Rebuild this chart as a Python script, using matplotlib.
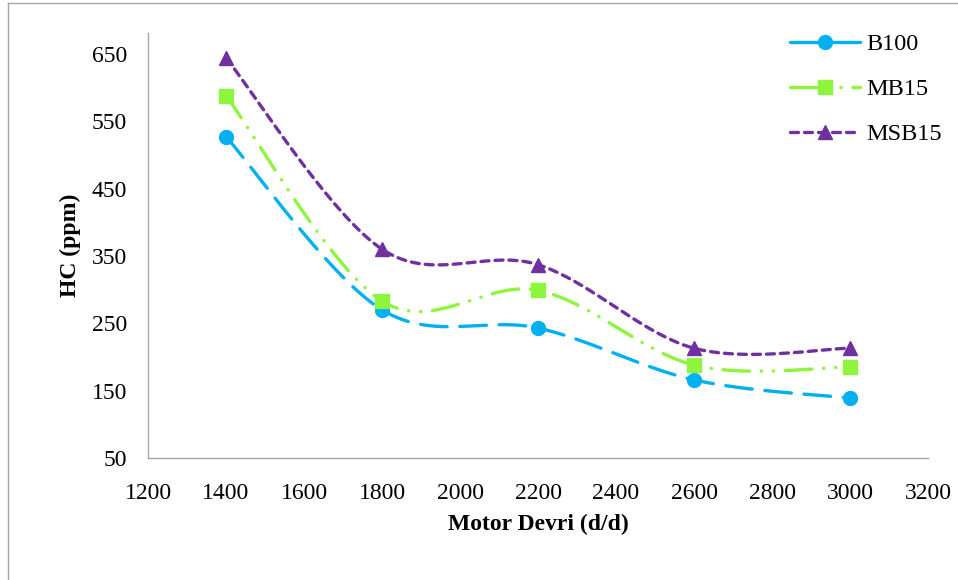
import numpy as np
import matplotlib
matplotlib.use('Agg')
import matplotlib.pyplot as plt
from matplotlib.lines import Line2D

plt.rcParams['font.family'] = ['Liberation Serif', 'DejaVu Serif']

rpm = [1400, 1800, 2200, 2600, 3000]
b100 = [527, 270, 243, 166, 139]
mb15 = [588, 283, 299, 188, 185]
msb15 = [644, 360, 337, 213, 213]

series_names = ['B100', 'MB15', 'MSB15']
colors = ['#00B0F0', '#8CF53C', '#7030A0']
markers = ['o', 's', '^']
styles = [(0, (8, 3.8)), (0, (8, 3.5, 0.1, 3.5, 0.1, 3.5)), (0, (2.4, 1.8))]

xlim = (1200, 3200)
ylim = (50, 681)


def smooth(xs, ys, sx, sy, n=40):
    # excel-like smoothed line (cardinal bezier), computed in pixel-scaled space
    p = np.column_stack([np.asarray(xs, float) * sx, np.asarray(ys, float) * sy])
    pts = []
    for i in range(len(p) - 1):
        p0 = p[max(i - 1, 0)]
        p1 = p[i]
        p2 = p[i + 1]
        p3 = p[min(i + 2, len(p) - 1)]
        c1 = p1 + (p2 - p0) / 6
        c2 = p2 - (p3 - p1) / 6
        t = np.linspace(0, 1, n)[:, None]
        seg = (1 - t) ** 3 * p1 + 3 * (1 - t) ** 2 * t * c1 + 3 * (1 - t) * t ** 2 * c2 + t ** 3 * p2
        pts.append(seg if i == 0 else seg[1:])
    pts = np.vstack(pts)
    return pts[:, 0] / sx, pts[:, 1] / sy


fig = plt.figure(figsize=(9.58, 5.8), dpi=100)
ax = fig.add_axes([148 / 958, 1 - 458 / 580, 780 / 958, 425 / 580])

# figure frame (left and top visible)
fig.add_artist(Line2D([8 / 958, 8 / 958], [0, 1 - 3 / 580], transform=fig.transFigure, color='#a6a6a6', lw=1))
fig.add_artist(Line2D([8 / 958, 1], [1 - 3 / 580, 1 - 3 / 580], transform=fig.transFigure, color='#a6a6a6', lw=1))

sx = 780 / (xlim[1] - xlim[0])
sy = 425 / (ylim[1] - ylim[0])

handles = []
for vals, name, c, m, ls in zip([b100, mb15, msb15], series_names, colors, markers, styles):
    xs, ys = smooth(rpm, vals, sx, sy)
    ax.plot(xs, ys, color=c, lw=2.4, linestyle=ls, dash_capstyle='round', solid_capstyle='round')
    ax.plot(rpm, vals, linestyle='none', marker=m, color=c, markersize=10 if m != '^' else 10.5)
    hls = '-' if name == 'B100' else ls
    handles.append(Line2D([], [], color=c, lw=2.4, linestyle=hls, marker=m, markersize=10,
                          dash_capstyle='round', solid_capstyle='round'))

ax.set_xlim(*xlim)
ax.set_ylim(*ylim)
ax.set_xticks(range(1200, 3201, 200))
ax.set_yticks(range(50, 651, 100))
ax.tick_params(length=0, labelsize=17, colors='black')
ax.tick_params(axis='y', pad=15)
ax.tick_params(axis='x', pad=18)
for s in ['top', 'right']:
    ax.spines[s].set_visible(False)
for s in ['left', 'bottom']:
    ax.spines[s].set_color('#a6a6a6')
    ax.spines[s].set_linewidth(1)

ax.set_xlabel('Motor Devri (d/d)', fontsize=17, fontweight='bold', labelpad=7)
ax.set_ylabel('HC (ppm)', fontsize=17, fontweight='bold', labelpad=8)

ax.legend(handles, series_names, loc='upper left', bbox_to_anchor=(790 / 958, 1 - 33 / 580),
          bbox_transform=fig.transFigure, frameon=False, fontsize=17.5, handlelength=2.9,
          handletextpad=0.25, labelspacing=0.95, borderpad=0, borderaxespad=0)

fig.savefig('out.png', dpi=100)
